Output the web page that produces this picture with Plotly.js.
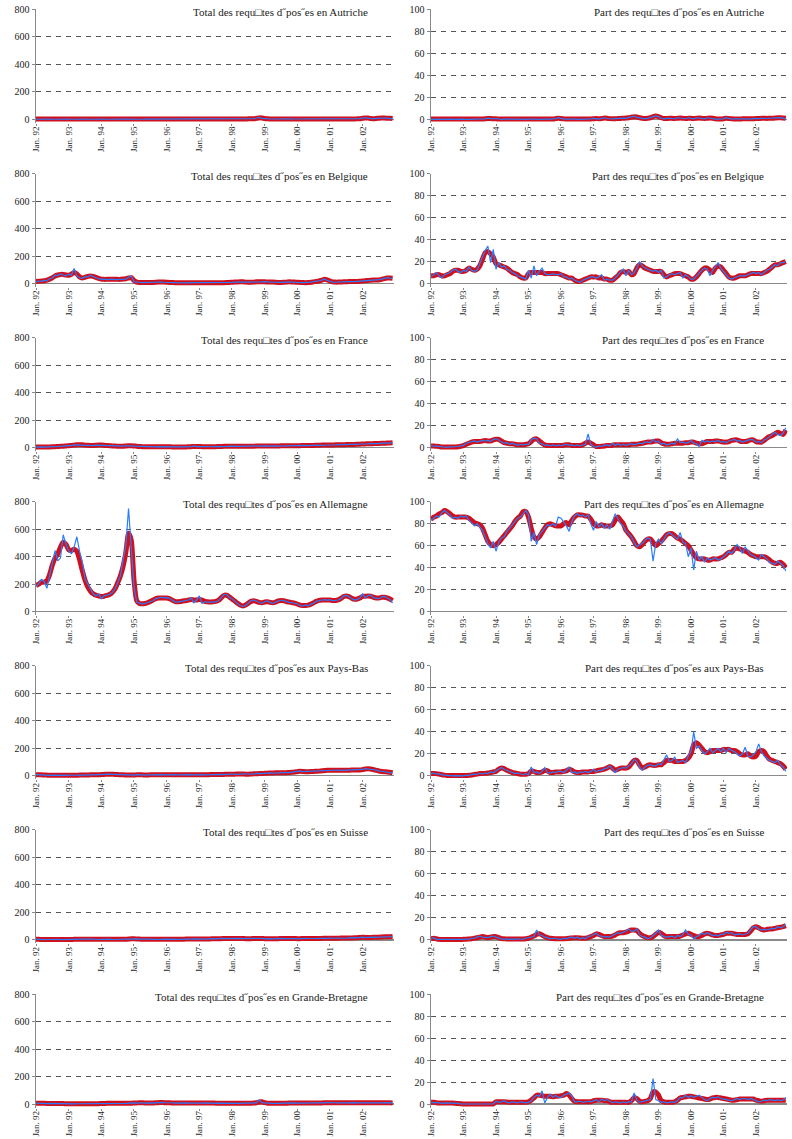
<!DOCTYPE html>
<html>
<head>
<meta charset="utf-8">
<script src="https://cdn.plot.ly/plotly-3.0.1.min.js"></script>
<style>
  html, body { margin: 0; padding: 0; background: #ffffff; }
  #chart { width: 792px; height: 1139px; }
</style>
</head>
<body>
<div id="chart"></div>
<script>
// Monthly series, January 1992 to December 2002 (132 months).
// "smooth" = trend line (red), "monthly" = raw monthly figures (blue).
const yearTicks = ["Jan. 92", "Jan. 93", "Jan. 94", "Jan. 95", "Jan. 96", "Jan. 97",
                   "Jan. 98", "Jan. 99", "Jan. 00", "Jan. 01", "Jan. 02"];

const panelTitles = [
  "Total des requ\u25A1tes d\u02DDpos\u02DDes en Autriche",
  "Part des requ\u25A1tes d\u02DDpos\u02DDes en Autriche",
  "Total des requ\u25A1tes d\u02DDpos\u02DDes en Belgique",
  "Part des requ\u25A1tes d\u02DDpos\u02DDes en Belgique",
  "Total des requ\u25A1tes d\u02DDpos\u02DDes en France",
  "Part des requ\u25A1tes d\u02DDpos\u02DDes en France",
  "Total des requ\u25A1tes d\u02DDpos\u02DDes en Allemagne",
  "Part des requ\u25A1tes d\u02DDpos\u02DDes en Allemagne",
  "Total des requ\u25A1tes d\u02DDpos\u02DDes aux Pays-Bas",
  "Part des requ\u25A1tes d\u02DDpos\u02DDes aux Pays-Bas",
  "Total des requ\u25A1tes d\u02DDpos\u02DDes en Suisse",
  "Part des requ\u25A1tes d\u02DDpos\u02DDes en Suisse",
  "Total des requ\u25A1tes d\u02DDpos\u02DDes en Grande-Bretagne",
  "Part des requ\u25A1tes d\u02DDpos\u02DDes en Grande-Bretagne"
];

// ---- Autriche ----
const autTotalSmooth = [
  2,2,2,2,2,2,2,2,2,2,2,2,
  2,2,2,2,2,2,2,2,2,2,2,2,
  2,2,2,2,2,2,2,2,2,2,2,2,
  2,2,2,2,2,2,2,2,2,2,2,2,
  2,2,2,2,2,2,2,2,2,2,2,2,
  2,2,2,2,2,2,2,3,3,3,3,3,
  3,3,3,3,3,3,4,4,5,8,11,10,
  6,4,3,3,3,3,3,3,3,3,3,3,
  3,3,3,3,3,3,3,3,3,3,3,3,
  3,3,3,3,3,3,3,3,3,3,4,5,
  8,10,10,6,5,7,9,10,10,9,8,6
];
const autTotalMonthly = [
  1,2,2,1,2,2,1,2,2,1,2,2,
  2,1,2,2,1,2,2,2,1,2,2,1,
  2,2,1,2,2,2,1,2,2,2,1,2,
  2,2,2,1,2,2,2,2,1,2,2,2,
  2,1,2,2,2,2,1,2,2,3,2,2,
  2,2,3,2,2,2,3,3,2,3,3,3,
  3,3,4,3,3,3,4,5,6,10,14,8,
  5,3,3,3,4,3,3,3,3,4,3,3,
  3,3,4,3,3,3,3,4,3,3,3,3,
  3,3,3,4,3,3,3,3,3,4,4,6,
  9,12,9,5,4,8,10,11,10,9,8,4
];
const autPartSmooth = [
  .3,.3,.3,.3,.3,.3,.3,.3,.3,.3,.3,.3,
  .3,.3,.3,.3,.3,.3,.3,.3,.5,.8,.8,.6,
  .5,.4,.3,.3,.3,.3,.3,.3,.3,.3,.3,.3,
  .3,.3,.3,.3,.3,.3,.3,.3,.3,.4,.7,1,
  .8,.5,.3,.3,.3,.3,.3,.3,.3,.3,.3,.4,
  .6,.8,.6,.8,1.2,1,.7,.6,.6,.8,.9,1,
  1.2,1.5,2,2.5,2.2,1.5,1,.8,1,1.5,2.5,3,
  2.5,1.5,.8,.8,1,1,.8,1,1.2,1,.8,1,
  1,.8,1,1.2,1,.8,1,1.2,1,.6,.4,.4,
  .6,1,.8,.5,.4,.4,.4,.5,.6,.6,.5,.6,
  .8,.8,1,1,.9,1,1,1.2,1.4,1.5,1.3,1
];
const autPartMonthly = [
  0,.2,0,.3,0,.2,0,.3,0,.2,.3,0,
  .2,0,.3,0,.2,.3,0,.2,.5,1.2,.6,.5,
  .8,.3,0,.2,.3,0,.2,0,.3,0,.2,.3,
  0,.2,.3,0,.2,0,.3,0,.2,.5,.6,1.5,
  .6,.2,.3,0,.2,.3,0,.2,0,.3,.2,.5,
  1,.5,.3,1,1.5,.8,.5,.4,.7,1,.8,1.2,
  1,1.5,2.5,3,1.8,1.2,.8,.5,1,1.8,3,3.2,
  2.5,1,.5,1,1.2,.8,.5,1.5,1,.8,.6,1.5,
  .8,.5,1.5,1,.8,.5,1.5,1,.8,.3,.3,.5,
  .5,1.5,.6,.3,.4,.2,.5,.6,.4,.8,.3,.7,
  1,.6,1.2,.8,1,1.2,.8,1.4,1.5,1.6,1.2,.3
];

// ---- Belgique ----
const belTotalSmooth = [
  15,16,18,20,25,32,42,55,62,66,66,62,
  60,68,80,70,48,40,45,52,55,52,45,38,
  32,30,30,30,30,30,30,30,32,35,40,42,
  22,10,8,8,8,8,8,8,9,10,10,10,
  9,8,7,6,5,5,5,5,5,5,6,6,
  6,6,6,6,6,6,6,6,6,6,7,8,
  9,10,11,12,12,10,9,9,10,12,13,13,
  12,11,10,10,9,8,8,9,10,12,11,10,
  9,8,7,6,7,9,12,15,18,24,30,26,
  18,12,10,10,11,12,13,14,15,15,15,16,
  18,20,22,24,25,25,26,30,36,40,40,38
];
const belTotalMonthly = [
  12,18,15,22,20,35,40,60,58,70,62,55,
  68,60,110,55,42,38,50,48,60,48,42,35,
  30,32,28,30,32,28,30,28,35,32,45,55,
  12,8,9,7,8,9,7,8,10,9,11,9,
  10,7,7,6,5,4,6,5,4,6,6,7,
  5,7,6,5,7,6,5,6,7,6,8,9,
  8,11,10,14,11,9,8,10,11,13,14,12,
  13,10,11,9,9,7,8,10,11,13,10,9,
  10,7,6,6,8,10,13,14,20,25,33,22,
  14,10,9,11,12,12,14,13,16,14,16,17,
  20,19,23,24,26,24,28,32,38,42,38,39
];
const belPartSmooth = [
  7,7,8,8,7,7,8,9,11,12,12,11,
  11,12,14,13,12,13,16,22,28,29,27,24,
  18,17,16,15,14,12,10,9,8,6,5,5,
  9,10,10,10,10,10,9,9,9,9,9,9,
  8,7,6,5,5,3,2,2,3,4,5,6,
  6,6,5,5,4,4,3,3,5,7,10,11,
  10,11,8,9,14,17,16,14,13,12,11,11,
  11,11,8,6,7,8,9,9,9,8,7,6,
  4,4,6,9,12,14,14,12,10,14,16,15,
  12,9,6,5,5,6,7,7,7,8,9,9,
  9,9,9,10,11,13,15,17,17,18,19,20
];
const belPartMonthly = [
  6,8,10,7,5,8,9,10,12,13,11,10,
  12,11,15,12,11,12,18,24,30,34,19,31,
  13,19,15,16,13,12,10,9,7,6,5,4,
  12,5,16,7,11,14,9,8,8,9,8,8,
  9,6,6,4,5,3,2,1,3,4,5,6,
  6,5,6,8,3,4,3,3,5,8,10,13,
  7,12,8,10,14,20,16,14,13,12,11,12,
  10,12,5,6,8,9,8,9,10,5,8,6,
  4,4,7,9,12,14,13,7,12,15,19,14,
  11,7,5,4,5,6,7,7,7,8,9,10,
  9,10,8,10,12,13,15,17,16,19,19,20
];

// ---- France ----
const fraTotalSmooth = [
  5,5,5,5,5,5,6,7,8,9,10,12,
  14,16,18,20,20,20,18,17,16,16,17,18,
  18,17,15,14,12,11,10,10,10,12,14,14,
  12,10,8,7,6,6,6,6,6,6,6,6,
  6,6,5,5,5,5,5,5,6,7,8,8,
  8,7,7,7,7,7,7,8,8,9,9,9,
  9,9,9,9,10,10,10,10,10,11,12,12,
  11,11,12,12,12,12,13,13,13,13,14,14,
  14,14,15,15,15,16,16,17,17,18,18,18,
  19,19,20,20,21,21,22,22,23,23,24,25,
  26,27,28,28,29,30,30,31,32,33,34,35
];
const fraTotalMonthly = [
  4,6,5,4,6,5,7,6,9,8,11,13,
  15,14,20,19,22,18,19,16,17,15,18,17,
  19,16,14,15,11,12,9,11,10,13,15,13,
  11,10,7,8,6,5,7,6,5,7,6,6,
  7,5,6,4,5,6,4,5,7,6,12,7,
  8,6,8,7,6,8,7,9,7,10,8,10,
  9,10,8,9,11,9,10,11,9,12,11,13,
  10,12,11,13,12,11,14,12,13,14,13,15,
  13,15,14,16,14,17,15,18,16,19,17,19,
  18,20,19,21,20,22,21,23,22,24,23,26,
  25,28,27,29,28,31,29,32,31,34,33,37
];
const fraPartSmooth = [
  1.5,1.5,1.2,1,.6,.5,.5,.5,.5,.6,.8,1.2,
  1.8,3,4,5,5.5,5.5,5.5,6,6.5,6,6,7,
  7.5,7.5,6,4.5,4,3.5,3.5,3,2.5,2.5,2.5,3,
  3.5,5.5,7.5,8,6,4,2.5,2,2,1.8,2,2,
  2,2.2,2.5,2.5,2,2,2,2,2.5,4,5,4,
  2.5,1,1,1.2,1.5,2,2,2.2,2.5,2.5,2.5,2.5,
  2.5,2.5,3,3,3,3.5,4,4.5,5,5,5.5,6,
  6,4.5,3.5,3,3,3.5,4,4,4,4,4.5,4.5,
  5,5,4,3.5,3.5,4.5,5.5,5.5,5.5,6,6,5.5,
  5,5,5.5,6.5,7,7,6,5.5,5.5,6,7,7,
  5.5,5,5,6.5,8.5,10,11,12.5,14,13,12,16
];
const fraPartMonthly = [
  2,1,1.5,1,.5,.3,.5,.5,.8,.5,1,1.5,
  2,4,4.5,5,6,5,5.5,6.5,6,6.5,5.5,7.5,
  8,7,5,4,4.5,3,4,3,2,3,2.5,3,
  3,7,8.5,8,4,3.5,2,2.5,1.5,2.5,1.5,2.5,
  1.5,2.5,3,2,2.5,1.5,2.5,1.5,2,3,12.5,3,
  1,.5,1.5,1,2,2.5,1.5,4,2,3.5,2,3,
  2,3,3.5,2.5,3.5,4,3.5,5,5,4.5,7.5,5,
  6,3,4,2.5,3,4,3,8,4.5,5,4,4.5,
  6.5,4,3.5,1,6.5,5,6,5,6,5.5,6.5,5,
  5.5,4.5,6,7,7.5,6,6.5,5,6,6.5,7.5,7,
  5,5.5,4.5,7,8,10,12,14,12,11,13,18
];

// ---- Allemagne ----
const deuTotalSmooth = [
  190,200,215,215,225,270,340,390,420,470,505,490,
  450,445,455,440,380,300,230,180,150,130,120,115,
  110,112,118,125,140,165,210,260,330,430,570,520,
  230,80,60,58,60,65,75,85,95,100,100,100,
  100,95,85,75,72,74,78,80,85,88,85,85,
  88,85,75,72,70,72,75,82,100,118,120,108,
  92,78,62,48,42,48,62,75,80,75,68,65,
  70,72,68,65,70,78,82,80,74,70,66,62,
  56,48,45,45,48,55,65,75,82,85,85,85,
  85,82,82,86,96,110,115,110,98,90,92,100,
  112,112,115,112,105,100,100,105,105,100,92,80
];
const deuTotalMonthly = [
  185,205,235,220,170,260,350,445,370,390,560,490,
  445,420,470,545,440,360,240,200,170,130,115,130,
  95,115,120,125,140,165,210,260,380,480,750,480,
  180,70,60,55,60,65,75,80,95,100,105,100,
  102,98,85,72,70,75,78,80,85,100,65,85,
  115,60,72,70,68,70,72,80,100,125,125,105,
  95,75,60,45,38,45,62,80,85,75,68,60,
  72,78,68,60,70,78,85,80,72,68,65,62,
  58,45,40,50,42,55,62,75,82,85,88,82,
  88,80,82,85,95,115,118,110,95,85,90,100,
  130,100,118,120,100,98,95,108,112,100,90,65
];
const deuPartSmooth = [
  84,86,87,89,90,92,91,89,87,86,86,86,
  86,86,85,83,81,80,79,76,70,64,61,60,
  61,63,66,69,72,75,78,82,85,87,91,91,
  86,76,68,66,68,72,76,79,80,79,78,78,
  78,80,81,79,83,86,88,88,88,87,87,84,
  80,78,78,79,78,78,78,79,83,86,83,80,
  74,71,68,64,60,59,61,64,66,66,63,60,
  62,64,67,70,71,71,69,67,66,64,62,60,
  56,52,49,48,48,48,47,47,48,48,48,49,
  50,52,54,54,57,58,57,56,55,54,52,51,
  50,50,50,50,49,47,45,44,44,45,43,40
];
const deuPartMonthly = [
  83,85,87,86,90,92,90,88,85,86,85,87,
  86,87,83,81,78,80,77,74,68,62,58,64,
  55,63,67,68,73,76,79,83,85,86,89,92,
  88,64,72,61,70,73,77,79,78,80,78,86,
  85,82,78,73,82,87,89,87,88,86,88,80,
  74,82,77,80,76,79,75,82,89,85,80,78,
  73,71,68,63,59,61,62,65,67,66,46,62,
  66,62,66,70,72,70,68,66,72,63,62,50,
  58,38,55,47,50,45,49,47,48,49,47,48,
  50,52,55,53,56,61,58,53,59,55,52,51,
  49,47,52,50,48,45,44,43,46,44,42,37
];

// ---- Pays-Bas ----
const nldTotalSmooth = [
  8,8,7,6,5,4,4,4,4,4,4,4,
  4,4,4,4,5,5,6,6,7,7,7,8,
  9,10,11,12,11,10,9,8,7,6,6,6,
  6,7,7,7,6,6,7,7,7,7,7,7,
  7,7,7,7,7,7,7,7,7,7,7,7,
  7,8,8,8,9,9,9,9,10,10,11,11,
  12,12,13,13,13,12,12,13,14,15,16,17,
  18,19,20,21,22,22,22,22,23,24,25,27,
  30,33,32,30,30,31,32,33,34,36,38,40,
  40,40,40,41,41,40,40,41,42,42,42,42,
  45,50,52,50,45,40,35,32,30,28,26,22
];
const nldTotalMonthly = [
  9,7,8,5,6,3,5,4,3,5,4,3,
  5,3,4,5,4,6,5,7,6,8,7,9,
  8,11,12,11,12,9,10,7,8,5,7,6,
  5,9,6,8,5,7,8,6,8,6,7,8,
  6,8,7,9,6,7,8,6,7,8,6,8,
  7,9,7,8,10,8,10,9,11,9,12,10,
  13,11,14,12,14,11,13,12,15,14,17,16,
  19,18,21,20,23,21,23,21,24,23,26,26,
  32,36,30,31,29,32,31,34,33,37,37,41,
  39,41,39,42,40,41,39,42,41,43,41,43,
  46,52,51,49,44,41,34,33,29,29,25,20
];
const nldPartSmooth = [
  2,2.2,2,1.5,1,.6,.3,.2,.2,.2,.2,.2,
  .3,.3,.5,.8,1.2,1.5,2,2,2.2,2.5,3,3.5,
  4,6,7,6.5,5,4,3,2.5,2,1.5,1.5,1.5,
  2,4.5,4,3,3,3.5,5,4.5,3,3,3.5,3.5,
  3.5,4,4.5,6,5,3.5,3,3,3.5,3.5,3.5,4,
  4,4.5,5,5.5,6,7,8.5,7,5,6,7,7,
  7,8,11,14,14,10,7,8,9.5,10,9.5,9.5,
  10,10,12,14,14,14,13,13,13,13,14,16,
  20,28,30,28,25,22,21,22,23,23,23,23,
  24,24,24,23,23,22,20,19,19,20,18,17,
  18,22,23,22,18,15,14,13,12,11,9,6
];
const nldPartMonthly = [
  2,2.5,1.5,2,.8,.5,.3,0,0,.2,0,.3,
  0,.5,.3,1,1.5,1.2,2.5,1.5,2.5,2,3.5,3,
  4.5,5.5,7.5,6,5,3.5,3,2,2.5,1.5,1,2,
  1,8,3,3.5,2,4,7.5,3,2.5,3.5,3,4,
  4,3,5,8,3,3.5,2,3.5,3,4,3,4,
  6,3.5,5,5,6.5,7,9,6,3,6,7,7.5,
  7,9,11,15,13,8,5,8,9.5,10,9,9,
  11,10,15,19,13,14,17,12,13,14,12,18,
  22,40,25,27,23,20,22,25,21,23,25,22,
  25,21,25,23,22,20,18,20,26,18,17,19,
  22,29,22,18,16,14,13,12,14,10,8,4
];

// ---- Suisse ----
const cheTotalSmooth = [
  4,4,3,3,3,3,3,3,3,3,3,3,
  3,3,4,4,5,5,5,5,5,4,4,4,
  4,4,4,4,4,4,4,4,4,5,6,8,
  8,7,6,5,4,4,4,4,4,4,5,5,
  5,5,5,5,5,5,5,6,6,6,7,7,
  6,6,6,7,7,8,8,9,9,10,10,10,
  10,10,10,10,10,9,9,9,10,10,10,10,
  9,9,9,9,9,9,10,10,10,10,10,10,
  9,9,10,10,10,10,10,11,11,11,12,12,
  12,12,12,12,13,13,13,14,14,15,16,18,
  19,18,18,18,19,20,20,21,22,22,23,24
];
const cheTotalMonthly = [
  5,3,4,2,3,4,2,3,4,2,3,4,
  2,4,3,5,4,6,5,6,4,5,3,4,
  5,3,4,5,3,4,5,3,4,6,7,9,
  7,8,5,6,4,3,5,4,3,5,4,6,
  5,6,4,5,6,4,6,5,7,5,8,6,
  7,5,6,8,6,9,7,10,8,11,9,10,
  11,9,10,11,9,10,8,9,11,9,10,11,
  8,10,9,8,10,9,11,9,10,11,9,10,
  8,10,9,11,10,9,11,10,12,10,13,11,
  13,11,12,13,12,14,12,15,13,16,15,19,
  20,17,19,17,20,19,21,20,23,21,24,25
];
const chePartSmooth = [
  1,1.5,1,.5,.3,.3,.3,.3,.3,.3,.3,.3,
  .5,.6,.8,1,1.5,2,2.5,3,2.5,2,2.5,3,
  3,2,1.2,1,.8,.8,.8,.8,.8,.8,.8,1,
  1.5,2.5,3.5,5,5.5,4.5,3,2,1.5,1.2,1,1,
  1,1,1.2,1.5,1.8,2,2,1.8,1.5,1.5,2,3,
  4,5.5,5,4,3,3,3,3.5,4.5,6,6.5,6.5,
  7,8,9,9,8.5,6,4,3,2,2,3,5,
  7,6,4,3,3,3,3,3,3.5,4.5,5.5,6,
  5,4,3,3,4,5.5,6,5.5,4.5,4,4,4.5,
  5,6,6,6,5.5,5,5,5,5,5.5,8,11,
  12,11,9.5,9,9.5,10,10,10.5,11,11.5,12,13
];
const chePartMonthly = [
  1,2,.5,.5,0,.3,0,.3,0,.5,0,.5,
  .5,.8,.5,1.5,1.5,2.5,3.5,2.5,2,2,3,3.5,
  2.5,1.5,1,.5,1,.5,1,.5,1,.8,.5,1.5,
  2,2,3,9,4.5,4,2.5,2,1,1.5,1,1,
  .5,1.5,1,2,2.5,1.5,2.5,1,2,1,3,3.5,
  5,6,4,3.5,2.5,3,2.5,4,5,6.5,6,7,
  8,10,8,8,10,5,3,2.5,1,2,4,6,
  9,4.5,3,2.5,3,3.5,2,4,3,5,9,5,
  4.5,1,3,4,6,5,6.5,5,4,4.5,3.5,5,
  5,7,6,6.5,4.5,5,5.5,4.5,5,6,9,12,
  12,10,9,9.5,9,10,10.5,10,12,11,12,14
];

// ---- Grande-Bretagne ----
const gbrTotalSmooth = [
  5,5,6,5,4,4,4,4,4,3,3,2,
  2,2,2,2,2,2,2,2,2,2,2,2,
  4,4,5,5,5,5,5,5,5,5,6,6,
  7,8,9,9,8,8,8,8,9,10,11,10,
  10,9,8,8,7,7,7,7,7,7,7,7,
  7,7,7,7,7,7,6,6,6,6,6,6,
  5,5,5,5,6,6,6,6,7,9,14,16,
  10,6,5,5,5,5,5,5,6,7,7,7,
  7,7,7,7,7,8,8,8,8,8,9,9,
  9,9,9,9,9,9,9,9,9,9,9,9,
  9,9,9,9,9,9,9,9,9,9,9,8
];
const gbrTotalMonthly = [
  6,4,7,5,3,5,4,3,5,3,2,2,
  2,2,1,2,2,1,2,2,1,2,2,2,
  5,3,5,6,4,6,5,4,6,5,7,5,
  8,7,10,9,7,9,8,7,10,9,12,10,
  11,8,9,7,8,6,7,8,6,8,7,6,
  8,6,7,8,6,7,5,7,6,5,7,6,
  4,6,5,4,7,5,6,7,6,8,30,10,
  8,5,6,4,5,6,4,6,5,8,6,8,
  6,8,7,6,8,7,9,8,7,9,8,10,
  8,10,9,8,10,9,8,10,9,10,8,10,
  9,8,10,9,8,10,9,8,10,9,10,7
];
const gbrPartSmooth = [
  1.5,1.5,1.2,1,1,1,1,.8,.8,.6,.5,.3,
  0,0,0,0,0,0,0,0,0,0,0,0,
  2,2,2,2,1.8,1.5,1.5,1.5,1.5,1.5,1.5,1.5,
  2,3.5,5.5,8,8,7.5,7,7,7,6.5,7,7,
  7.5,8,9.5,8,5,2.5,2,2,2,2,2,2,
  3,3.5,3.5,3.5,3,3,2,1.5,1.5,1.5,1.5,1.5,
  1.5,1.5,3,6,5,2.5,2,2.5,3,5,11,11,
  8,3,2,1.5,1.5,1.5,2,3.5,5.5,6,6.5,7,
  7,6.5,6,5.5,5,4.5,4,4.5,5.5,6,6,5.5,
  5,4.5,4,3.5,3.5,4,4.5,4.5,4.5,4.5,4.5,4.5,
  3.5,3,2.5,3,3.5,3.5,3.5,3.5,3.5,3.5,3.5,3.5
];
const gbrPartMonthly = [
  2,1,1.5,1,.5,1,1,.5,1,.5,.5,0,
  0,0,0,0,0,0,0,0,0,0,0,0,
  2.5,1.5,2,3,1.5,1,2,1.5,1,2,1.5,1,
  1.5,3,6,8,7,12,1,6,9,6,8,6,
  6,8,9,10,7,2,2,2.5,1.5,2,2.5,2,
  3,4,2,4.5,3,4,2.5,1,2,1.5,1,2,
  1,2,2,10,4,1.5,2,2.5,3,4,23,4,
  3,1.5,2,1,1.5,2,1.5,3,6,5.5,8,6,
  7.5,6,7,8,6,4,3,5,6,5.5,6.5,5,
  4.5,4,4,3,4,5,4,5,5,4,5,4,
  3,2,2.5,3.5,3,4,3.5,3,4,3,3.5,6
];

// Panels in reading order: left = totals (0-800), right = shares in % (0-100)
const panels = [
  [autTotalSmooth, autTotalMonthly], [autPartSmooth, autPartMonthly],
  [belTotalSmooth, belTotalMonthly], [belPartSmooth, belPartMonthly],
  [fraTotalSmooth, fraTotalMonthly], [fraPartSmooth, fraPartMonthly],
  [deuTotalSmooth, deuTotalMonthly], [deuPartSmooth, deuPartMonthly],
  [nldTotalSmooth, nldTotalMonthly], [nldPartSmooth, nldPartMonthly],
  [cheTotalSmooth, cheTotalMonthly], [chePartSmooth, chePartMonthly],
  [gbrTotalSmooth, gbrTotalMonthly], [gbrPartSmooth, gbrPartMonthly]
];

panels.forEach((p, i) => {
  if (p[0].length !== 132 || p[1].length !== 132) {
    throw new Error('series ' + i + ' length ' + p[0].length + '/' + p[1].length);
  }
});

// ---- Page geometry (pixels) ----
const W = 792, H = 1139;
const FONT = '"Liberation Serif", "Times New Roman", Times, serif';
const INK = '#222222';
const columns = [
  { x0: 36, x1: 394.2, yMax: 800, yStep: 200, titleRight: 371 },
  { x0: 431, x1: 787.4, yMax: 100, yStep: 20, titleRight: 767 }
];
const ROW_TOP = 9.4, ROW_STEP = 164.1, PLOT_H = 110, BELOW_ZERO = 3.5;

const monthIndex = Array.from({ length: 132 }, (_, i) => i);
const tickPositions = yearTicks.map((_, k) => 12 * k);

const traces = [];
const annotations = [];
const layout = {
  width: W, height: H,
  margin: { l: 0, r: 0, t: 0, b: 0 },
  paper_bgcolor: '#ffffff',
  plot_bgcolor: 'rgba(0,0,0,0)',
  showlegend: false,
  font: { family: FONT, color: INK },
  annotations: annotations
};

panels.forEach((series, i) => {
  const row = Math.floor(i / 2);
  const col = columns[i % 2];
  const suffix = i === 0 ? '' : String(i + 1);
  const top = ROW_TOP + ROW_STEP * row;
  const zero = top + PLOT_H;
  const bottom = zero + BELOW_ZERO;
  const yLow = -col.yMax * BELOW_ZERO / PLOT_H;

  traces.push({
    x: monthIndex, y: series[0], type: 'scatter', mode: 'lines',
    xaxis: 'x' + suffix, yaxis: 'y' + suffix,
    line: { color: '#d0101c', width: 5, shape: 'spline', smoothing: 0.6 },
    hoverinfo: 'skip'
  });
  traces.push({
    x: monthIndex, y: series[1], type: 'scatter', mode: 'lines',
    xaxis: 'x' + suffix, yaxis: 'y' + suffix,
    line: { color: '#2a7cff', width: 1.2 },
    hoverinfo: 'skip'
  });

  layout['xaxis' + suffix] = {
    domain: [col.x0 / W, col.x1 / W],
    anchor: 'y' + suffix,
    range: [0, 131.6],
    tickmode: 'array',
    tickvals: tickPositions,
    ticktext: yearTicks,
    tickangle: -90,
    ticks: 'outside', ticklen: 2, tickwidth: 1, tickcolor: '#888888',
    ticklabelstandoff: -3,
    tickfont: { family: FONT, size: 9, color: INK },
    showgrid: false, zeroline: false, showline: false,
    fixedrange: true
  };
  layout['yaxis' + suffix] = {
    domain: [1 - bottom / H, 1 - top / H],
    anchor: 'x' + suffix,
    range: [yLow, col.yMax],
    tickmode: 'linear', tick0: 0, dtick: col.yStep,
    ticks: 'outside', ticklen: 3, tickwidth: 1, tickcolor: '#888888',
    tickfont: { family: FONT, size: 10, color: INK },
    showline: true, linecolor: '#8a8a8a', linewidth: 1.5,
    showgrid: true, gridcolor: '#555555', gridwidth: 1, griddash: '5px,5px',
    zeroline: true, zerolinecolor: '#8a8a8a', zerolinewidth: 1.2,
    fixedrange: true
  };

  annotations.push({
    text: panelTitles[i],
    xref: 'paper', yref: 'paper',
    x: col.titleRight / W, xanchor: 'right',
    y: 1 - (top + 2.5) / H, yanchor: 'middle',
    showarrow: false,
    bgcolor: '#ffffff', borderpad: 2,
    font: { family: FONT, size: 11, color: INK }
  });
});

Plotly.newPlot('chart', traces, layout, { staticPlot: true, displayModeBar: false });
</script>
</body>
</html>
